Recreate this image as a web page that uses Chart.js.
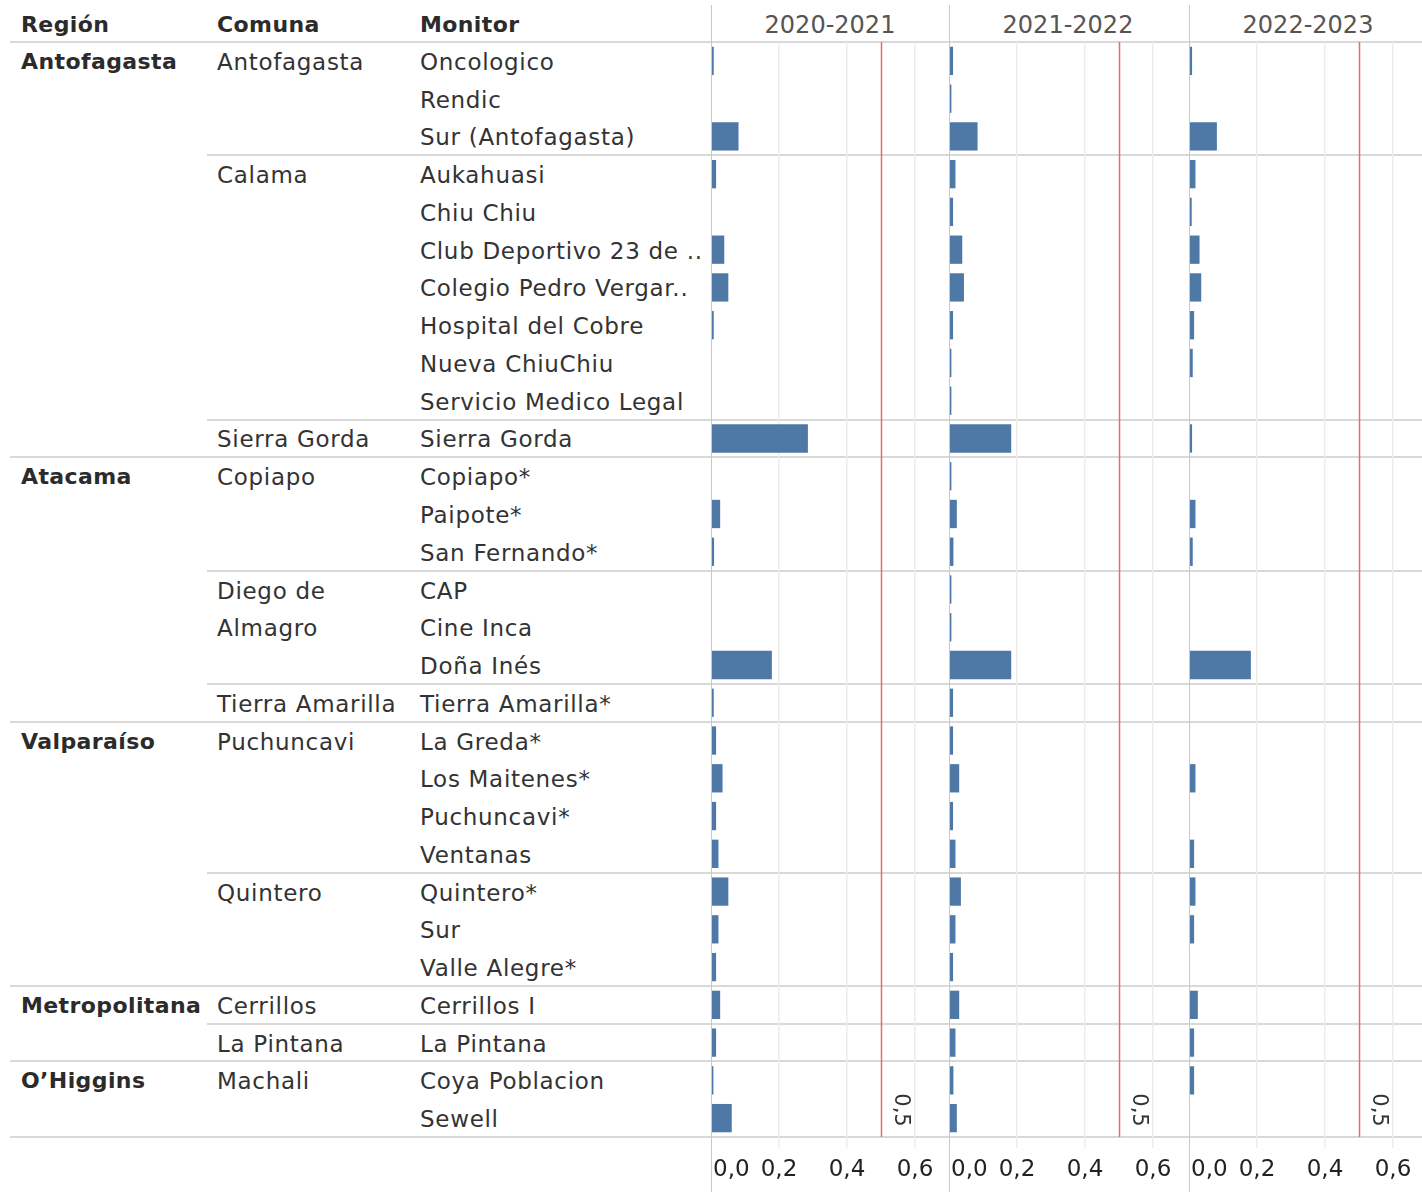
<!DOCTYPE html>
<html>
<head>
<meta charset="utf-8">
<script src="https://cdn.jsdelivr.net/npm/chart.js@4.4.1/dist/chart.umd.min.js"></script>
<style>
  body { margin: 0; background: #fff; font-family: "DejaVu Sans", sans-serif; }
  #wrap { position: relative; width: 1422px; height: 1192px; overflow: hidden; }
  .t { position: absolute; white-space: nowrap; font-size: 23px; line-height: 24px; color: #333; letter-spacing: 0.7px; }
  .b { font-weight: bold; font-size: 22px; color: #2b2b2b; letter-spacing: 0.4px; }
  .hd { position: absolute; white-space: nowrap; font-size: 24px; line-height: 26px; color: #555; text-align: center; }
  .h { position: absolute; height: 2px; background: #d9d9d9; }
  .v { position: absolute; width: 1px; background: #c8c8c8; }
  canvas { position: absolute; }
</style>
</head>
<body>
<div id="wrap"></div>
<script>
// --- Données ---
const regiones = ['Antofagasta', 'Atacama', 'Valparaíso', 'Metropolitana', 'O’Higgins'];
const regionFilas = [11, 7, 7, 2, 2];

const comunas = ['Antofagasta', 'Calama', 'Sierra Gorda', 'Copiapo', 'Diego de\nAlmagro', 'Tierra Amarilla',
  'Puchuncavi', 'Quintero', 'Cerrillos', 'La Pintana', 'Machali'];
const comunaFilas = [3, 7, 1, 3, 3, 1, 4, 3, 1, 1, 2];

const monitores = ['Oncologico', 'Rendic', 'Sur (Antofagasta)', 'Aukahuasi', 'Chiu Chiu', 'Club Deportivo 23 de ..',
  'Colegio Pedro Vergar..', 'Hospital del Cobre', 'Nueva ChiuChiu', 'Servicio Medico Legal', 'Sierra Gorda',
  'Copiapo*', 'Paipote*', 'San Fernando*', 'CAP', 'Cine Inca', 'Doña Inés', 'Tierra Amarilla*',
  'La Greda*', 'Los Maitenes*', 'Puchuncavi*', 'Ventanas', 'Quintero*', 'Sur', 'Valle Alegre*',
  'Cerrillos I', 'La Pintana', 'Coya Poblacion', 'Sewell'];

const periodos = ['2020-2021', '2021-2022', '2022-2023'];

const v2020 = [0.008, 0, 0.081, 0.015, 0, 0.039, 0.051, 0.008, 0, 0, 0.285,
  0, 0.027, 0.009, 0, 0, 0.179, 0.008,
  0.015, 0.034, 0.015, 0.022, 0.051, 0.022, 0.015,
  0.027, 0.015, 0.007, 0.061];
const v2021 = [0.012, 0.007, 0.084, 0.019, 0.012, 0.039, 0.044, 0.012, 0.007, 0.007, 0.183,
  0.007, 0.023, 0.013, 0.007, 0.007, 0.183, 0.012,
  0.012, 0.030, 0.012, 0.019, 0.035, 0.019, 0.012,
  0.030, 0.019, 0.013, 0.023];
const v2022 = [0.009, 0.003, 0.082, 0.019, 0.008, 0.031, 0.036, 0.015, 0.011, 0.003, 0.009,
  0.003, 0.019, 0.011, 0.003, 0.003, 0.182, 0.003,
  0.003, 0.019, 0.003, 0.015, 0.019, 0.015, 0.003,
  0.026, 0.015, 0.015, 0.003];
const series = [v2020, v2021, v2022];

const ticksX = [0, 0.2, 0.4, 0.6];
const referencia = 0.5;

// --- Mise en page ---
const wrap = document.getElementById('wrap');
const TOP = 42, AREA_H = 1095, AXIS_H = 55;
const ROW_H = AREA_H / monitores.length;
const PANEL_X = [711, 949, 1189], PANEL_W = 238;
const FONT = '"DejaVu Sans", sans-serif';

function addDiv(cls, css, text) {
  const d = document.createElement('div');
  d.className = cls;
  Object.assign(d.style, css);
  if (text !== undefined) d.textContent = text;
  wrap.appendChild(d);
  return d;
}
const rowY = i => TOP + (i + 0.5) * ROW_H - 11;

// en-têtes
addDiv('t b', { left: '21px', top: '13px' }, 'Región');
addDiv('t b', { left: '217px', top: '13px' }, 'Comuna');
addDiv('t b', { left: '420px', top: '13px' }, 'Monitor');
periodos.forEach((p, i) => {
  addDiv('hd', { left: PANEL_X[i] + 'px', width: PANEL_W + 'px', top: '12px' }, p);
});
addDiv('h', { left: '10px', top: (TOP - 1) + 'px', width: '1412px' });

// colonnes de texte
monitores.forEach((m, i) => addDiv('t', { left: '420px', top: rowY(i) + 'px' }, m));

let r = 0;
comunas.forEach((c, k) => {
  c.split('\n').forEach((line, j) => addDiv('t', { left: '217px', top: rowY(r + j) + 'px' }, line));
  r += comunaFilas[k];
  addDiv('h', { left: '207px', top: (TOP + r * ROW_H - 1) + 'px', width: '1215px' });
});
r = 0;
regiones.forEach((g, k) => {
  addDiv('t b', { left: '21px', top: rowY(r) + 'px' }, g);
  r += regionFilas[k];
  addDiv('h', { left: '10px', top: (TOP + r * ROW_H - 1) + 'px', width: '1412px' });
});

// --- Graphiques ---
const refLine = {
  id: 'refLine',
  afterDatasetsDraw(chart) {
    const { ctx, chartArea: a, scales: { x } } = chart;
    const px = Math.round(x.getPixelForValue(referencia)) + 0.5;
    ctx.save();
    ctx.strokeStyle = '#e26d6d';
    ctx.lineWidth = 1.5;
    ctx.beginPath();
    ctx.moveTo(px, a.top);
    ctx.lineTo(px, a.bottom);
    ctx.stroke();
    ctx.translate(px + 19, a.bottom - 27);
    ctx.rotate(Math.PI / 2);
    ctx.fillStyle = '#333';
    ctx.font = '21px ' + FONT;
    ctx.textAlign = 'center';
    ctx.textBaseline = 'middle';
    ctx.fillText(referencia.toFixed(1).replace('.', ','), 0, 0);
    ctx.restore();
  },
  afterDraw(chart) {
    const { ctx, chartArea: a, scales: { x } } = chart;
    ctx.save();
    ctx.fillStyle = '#222';
    ctx.font = '23px ' + FONT;
    ctx.textBaseline = 'middle';
    ticksX.forEach((t, i) => {
      const px = x.getPixelForValue(t);
      ctx.textAlign = i === 0 ? 'left' : 'center';
      ctx.fillText(t.toFixed(1).replace('.', ','), i === 0 ? px + 2 : px, a.bottom + 33);
    });
    ctx.restore();
  }
};

series.forEach((vals, i) => {
  const cv = document.createElement('canvas');
  cv.width = PANEL_W;
  cv.height = AREA_H + AXIS_H;
  cv.style.left = PANEL_X[i] + 'px';
  cv.style.top = TOP + 'px';
  wrap.appendChild(cv);
  new Chart(cv, {
    type: 'bar',
    data: {
      labels: monitores,
      datasets: [{
        data: vals,
        backgroundColor: '#4e79a7',
        barPercentage: 0.75,
        categoryPercentage: 1
      }]
    },
    options: {
      indexAxis: 'y',
      responsive: false,
      animation: false,
      layout: { padding: 0 },
      plugins: { legend: { display: false }, tooltip: { enabled: false } },
      scales: {
        y: { display: false },
        x: {
          min: 0,
          max: 0.7,
          ticks: { display: false, stepSize: 0.2 },
          border: { display: false },
          grid: {
            color: c => (c.tick && c.tick.value > 0 && c.tick.value < 0.69) ? '#ececec' : 'rgba(0,0,0,0)',
            tickLength: 11,
            lineWidth: 1.5
          },
          afterFit: s => { s.height = AXIS_H; }
        }
      }
    },
    plugins: [refLine]
  });
});

// bordures verticales des panneaux
PANEL_X.forEach(x => addDiv('v', { left: x + 'px', top: '5px', height: '1187px' }));
</script>
</body>
</html>
